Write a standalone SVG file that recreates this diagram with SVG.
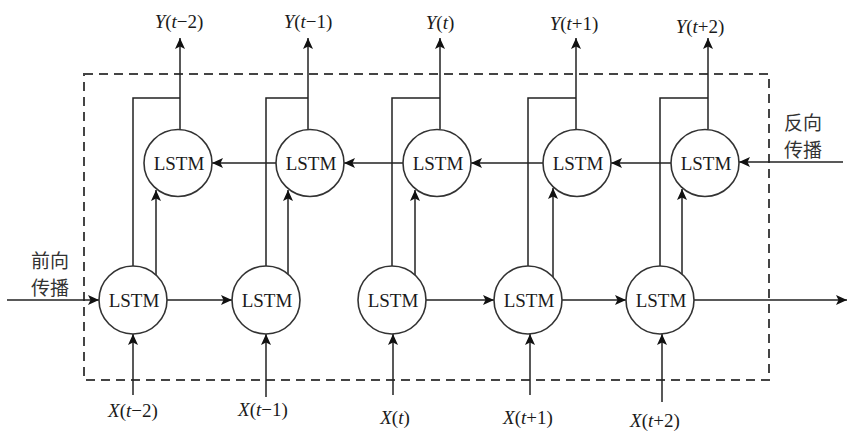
<svg xmlns="http://www.w3.org/2000/svg" width="852" height="432" viewBox="0 0 852 432">
<style>
.node{fill:#fff;stroke:#333;stroke-width:1.6}
.ser{font-family:'Liberation Serif','DejaVu Serif',serif}
.lbl{font-size:19px;fill:#1a1a1a;text-anchor:middle}
.io{font-size:19px;fill:#1a1a1a;text-anchor:middle}
.it{font-style:italic}
.zh{font-family:'Noto Sans CJK SC',sans-serif;font-size:19px;fill:#333}
.ln{fill:none;stroke:#222;stroke-width:1.5}
.ar{fill:none;stroke:#222;stroke-width:1.5;marker-end:url(#ah)}
.box{fill:none;stroke:#444;stroke-width:2;stroke-dasharray:9 6}
</style>
<defs>
<marker id="ah" markerUnits="userSpaceOnUse" markerWidth="12" markerHeight="10" refX="11" refY="5" orient="auto">
<path d="M0,0 L11,5 L0,10 L2.5,5 Z" fill="#111"/>
</marker>
</defs>
<rect x="0" y="0" width="852" height="432" fill="#fff"/>
<rect class="box" x="84" y="74" width="685" height="306"/>

<g id="connectors">
<path class="ar" d="M180,129 V38"/>
<path class="ar" d="M308,129 V38"/>
<path class="ar" d="M440,129 V38"/>
<path class="ar" d="M576,129 V38"/>
<path class="ar" d="M708,129 V38"/>
<path class="ln" d="M133,266 V98 H180"/>
<path class="ln" d="M266,266 V98 H308"/>
<path class="ln" d="M392,266 V98 H440"/>
<path class="ln" d="M528,266 V98 H576"/>
<path class="ln" d="M660,266 V98 H708"/>
<path class="ar" d="M156,275 V190"/>
<path class="ar" d="M288,274 V190"/>
<path class="ar" d="M415,275 V190"/>
<path class="ar" d="M553,277 V188"/>
<path class="ar" d="M682,274 V189"/>
<path class="ar" d="M843,162 H739"/>
<path class="ar" d="M671,163 H611"/>
<path class="ar" d="M543,163 H471"/>
<path class="ar" d="M403,163 H344"/>
<path class="ar" d="M276,163 H212"/>
<path class="ar" d="M7,300 H99"/>
<path class="ar" d="M167,300 H232"/>
<path class="ar" d="M426,300 H494"/>
<path class="ar" d="M562,300 H626"/>
<path class="ar" d="M694,300 H847"/>
<path class="ar" d="M133,395 V334"/>
<path class="ar" d="M266,397 V334"/>
<path class="ar" d="M393,395 V334"/>
<path class="ar" d="M530,395 V334"/>
<path class="ar" d="M662,402 V334"/>
</g>

<g id="b1"><ellipse class="node" cx="178" cy="163" rx="34" ry="33.5"/><text class="ser lbl" x="179" y="170">LSTM</text></g>
<g id="b2"><ellipse class="node" cx="310" cy="163" rx="34" ry="33.5"/><text class="ser lbl" x="311" y="170">LSTM</text></g>
<g id="b3"><ellipse class="node" cx="437" cy="163" rx="34" ry="33.5"/><text class="ser lbl" x="438" y="170">LSTM</text></g>
<g id="b4"><ellipse class="node" cx="577" cy="163" rx="34" ry="33.5"/><text class="ser lbl" x="578" y="170">LSTM</text></g>
<g id="b5"><ellipse class="node" cx="705" cy="163" rx="34" ry="33.5"/><text class="ser lbl" x="706" y="170">LSTM</text></g>

<g id="f1"><ellipse class="node" cx="133" cy="300" rx="34" ry="34"/><text class="ser lbl" x="134" y="307">LSTM</text></g>
<g id="f2"><ellipse class="node" cx="266" cy="300" rx="34" ry="34"/><text class="ser lbl" x="267" y="307">LSTM</text></g>
<g id="f3"><ellipse class="node" cx="392" cy="300" rx="34" ry="34"/><text class="ser lbl" x="393" y="307">LSTM</text></g>
<g id="f4"><ellipse class="node" cx="528" cy="300" rx="34" ry="34"/><text class="ser lbl" x="529" y="307">LSTM</text></g>
<g id="f5"><ellipse class="node" cx="660" cy="300" rx="34" ry="34"/><text class="ser lbl" x="661" y="307">LSTM</text></g>

<g id="outputs">
<text class="ser io" x="179" y="28"><tspan class="it">Y</tspan>(<tspan class="it">t</tspan>−2)</text>
<text class="ser io" x="308" y="28"><tspan class="it">Y</tspan>(<tspan class="it">t</tspan>−1)</text>
<text class="ser io" x="440" y="29"><tspan class="it">Y</tspan>(<tspan class="it">t</tspan>)</text>
<text class="ser io" x="574" y="30"><tspan class="it">Y</tspan>(<tspan class="it">t</tspan>+1)</text>
<text class="ser io" x="700" y="33"><tspan class="it">Y</tspan>(<tspan class="it">t</tspan>+2)</text>
</g>
<g id="inputs">
<text class="ser io" x="133" y="417"><tspan class="it">X</tspan>(<tspan class="it">t</tspan>−2)</text>
<text class="ser io" x="263" y="416"><tspan class="it">X</tspan>(<tspan class="it">t</tspan>−1)</text>
<text class="ser io" x="395" y="424"><tspan class="it">X</tspan>(<tspan class="it">t</tspan>)</text>
<text class="ser io" x="528" y="424"><tspan class="it">X</tspan>(<tspan class="it">t</tspan>+1)</text>
<text class="ser io" x="655" y="427"><tspan class="it">X</tspan>(<tspan class="it">t</tspan>+2)</text>
</g>
<g id="labels">
<text class="zh" x="31" y="268">前向</text>
<text class="zh" x="31" y="295">传播</text>
<text class="zh" x="784" y="130">反向</text>
<text class="zh" x="784" y="157">传播</text>
</g>
</svg>
